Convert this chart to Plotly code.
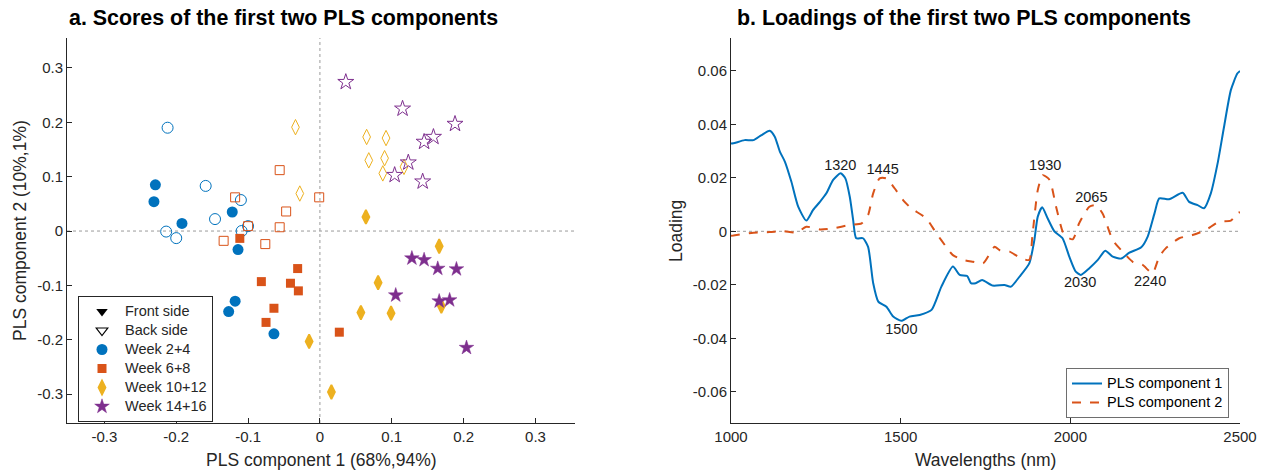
import plotly.graph_objects as go

# ---------------- Scores data (panel a) ----------------
w24_front_x = [-0.229, -0.231, -0.192, -0.122, -0.114, -0.118, -0.127, -0.064]
w24_front_y = [0.085, 0.054, 0.014, 0.035, -0.034, -0.129, -0.148, -0.189]
w24_back_x = [-0.212, -0.159, -0.110, -0.146, -0.214, -0.200, -0.109, -0.100]
w24_back_y = [0.190, 0.083, 0.057, 0.022, -0.001, -0.013, 0.000, 0.009]

w68_front_x = [-0.1115, -0.031, -0.0815, -0.041, -0.030, -0.064, -0.075, 0.027]
w68_front_y = [-0.0135, -0.069, -0.093, -0.096, -0.110, -0.142, -0.168, -0.186]
w68_back_x = [-0.056, -0.118, -0.001, -0.047, -0.056, -0.134, -0.076, -0.100]
w68_back_y = [0.112, 0.062, 0.062, 0.036, 0.007, -0.018, -0.024, 0.009]

w1012_front_x = [0.064, 0.166, 0.081, 0.057, 0.099, 0.169, -0.015, 0.016]
w1012_front_y = [0.026, -0.028, -0.095, -0.150, -0.151, -0.138, -0.203, -0.296]
w1012_back_x = [-0.034, -0.028, 0.065, 0.092, 0.068, 0.090, 0.0875, 0.117]
w1012_back_y = [0.191, 0.069, 0.173, 0.171, 0.130, 0.134, 0.106, 0.118]

w1416_front_x = [0.128, 0.145, 0.164, 0.190, 0.1055, 0.166, 0.1805, 0.204]
w1416_front_y = [-0.050, -0.053, -0.069, -0.070, -0.118, -0.129, -0.127, -0.2145]
w1416_back_x = [0.036, 0.115, 0.188, 0.145, 0.158, 0.123, 0.104, 0.143]
w1416_back_y = [0.274, 0.225, 0.197, 0.164, 0.173, 0.126, 0.103, 0.091]

score_ticks = [-0.3, -0.2, -0.1, 0, 0.1, 0.2, 0.3]
score_ticktext = ["-0.3", "-0.2", "-0.1", "0", "0.1", "0.2", "0.3"]

# ---------------- Loadings data (panel b) ----------------
pc1_wl = [1000, 1007, 1040, 1066, 1090, 1114, 1129, 1144, 1159, 1178, 1198, 1222, 1242, 1262,
          1281, 1301, 1323, 1337, 1350, 1360, 1369, 1389, 1404, 1419, 1434, 1458, 1478, 1502,
          1526, 1556, 1591, 1620, 1654, 1674, 1696, 1707, 1721, 1740, 1771, 1806, 1825, 1850,
          1879, 1894, 1904, 1917, 1933, 1953, 1977, 1997, 2016, 2031, 2056, 2081, 2103, 2125,
          2150, 2174, 2209, 2228, 2248, 2262, 2291, 2331, 2350, 2375, 2394, 2414, 2434, 2453,
          2473, 2492, 2500]
pc1_load = [0.0328, 0.0329, 0.0341, 0.0341, 0.0360, 0.0376, 0.0354, 0.0298, 0.0260, 0.0185,
            0.0092, 0.0040, 0.0080, 0.0110, 0.0142, 0.0192, 0.0217, 0.0198, 0.0129, 0.0042,
            -0.0026, -0.0026, -0.0058, -0.0194, -0.0263, -0.0282, -0.0319, -0.0335, -0.0319,
            -0.0313, -0.0294, -0.0207, -0.0132, -0.0163, -0.0167, -0.0194, -0.0194, -0.0182,
            -0.0203, -0.0201, -0.0207, -0.0170, -0.0120, -0.0033, 0.0055, 0.0090, 0.0049, 0.0000,
            -0.0026, -0.0095, -0.0151, -0.0163, -0.0138, -0.0107, -0.0073, -0.0095, -0.0102,
            -0.0080, -0.0060, -0.0020, 0.0067, 0.0123, 0.0120, 0.0144, 0.0110, 0.0098, 0.0086,
            0.0142, 0.0254, 0.0391, 0.0528, 0.0590, 0.0600]

pc2_wl = [1000, 1007, 1066, 1114, 1153, 1193, 1222, 1262, 1301, 1350, 1385, 1404, 1419, 1438,
          1458, 1482, 1507, 1531, 1575, 1605, 1634, 1654, 1684, 1713, 1743, 1777, 1791, 1821,
          1855, 1879, 1888, 1904, 1919, 1939, 1958, 1982, 2007, 2026, 2056, 2075, 2095, 2125,
          2154, 2184, 2213, 2242, 2262, 2281, 2321, 2360, 2399, 2438, 2473, 2492, 2500]
pc2_load = [-0.0017, -0.0016, -0.0005, -0.0003, 0.0001, -0.0005, 0.0017, 0.0007, 0.0011,
            0.0024, 0.0030, 0.0061, 0.0142, 0.0198, 0.0198, 0.0161, 0.0117, 0.0086, 0.0049,
            -0.0007, -0.0058, -0.0089, -0.0107, -0.0114, -0.0120, -0.0058, -0.0070, -0.0076,
            -0.0101, -0.0107, -0.0020, 0.0154, 0.0210, 0.0192, 0.0092, -0.0014, -0.0030, 0.0030,
            0.0092, 0.0098, 0.0067, -0.0033, -0.0076, -0.0114, -0.0126, -0.0157, -0.0095,
            -0.0064, -0.0026, -0.0014, 0.0005, 0.0036, 0.0040, 0.0067, 0.0072]

peak_wl = [1320, 1445, 1500, 1930, 2065, 2030, 2240]
peak_lbl_x = [1322, 1447, 1502, 1926, 2062, 2029, 2235]
peak_lbl_y = [0.0244, 0.0229, -0.0369, 0.0244, 0.0122, -0.0196, -0.0192]

load_xticks = [1000, 1500, 2000, 2500]
load_yticks = [-0.06, -0.04, -0.02, 0, 0.02, 0.04, 0.06]
load_yticktext = ["-0.06", "-0.04", "-0.02", "0", "0.02", "0.04", "0.06"]

# ---------------- Styling ----------------
BLUE = "#0072BD"
ORANGE = "#D95319"
YELLOW = "#EDB120"
PURPLE = "#7E2F8E"
FONT = "Liberation Sans, Arial, sans-serif"
AXC = "#262626"


def big(s, px=14.5):
    return f'<span style="font-size:{px}px">{s}</span>'


fig = go.Figure()

groups = [
    ("Week 2+4", BLUE, "circle", 11, 0, w24_front_x, w24_front_y, w24_back_x, w24_back_y),
    ("Week 6+8", ORANGE, "square", 9, 0, w68_front_x, w68_front_y, w68_back_x, w68_back_y),
    ("Week 10+12", YELLOW, "diamond-tall", 10, 1.8, w1012_front_x, w1012_front_y, w1012_back_x, w1012_back_y),
    ("Week 14+16", PURPLE, "star", 11, 0.5, w1416_front_x, w1416_front_y, w1416_back_x, w1416_back_y),
]

# legend-only entries for front/back
fig.add_trace(go.Scatter(x=[None], y=[None], mode="markers", name=big("Front side"),
                         marker=dict(symbol="triangle-down", color="black", size=10),
                         legend="legend", legendrank=1, xaxis="x", yaxis="y"))
fig.add_trace(go.Scatter(x=[None], y=[None], mode="markers", name=big("Back side"),
                         marker=dict(symbol="triangle-down-open", color="black", size=10,
                                     line=dict(width=1.2)),
                         legend="legend", legendrank=2, xaxis="x", yaxis="y"))

for i, (name, col, sym, sz, lw, fx, fy, bx, by) in enumerate(groups):
    fig.add_trace(go.Scatter(x=bx, y=by, mode="markers", showlegend=False,
                             marker=dict(symbol=sym + "-open", color=col, size=sz + (1 if lw else 0),
                                         line=dict(width=1)),
                             xaxis="x", yaxis="y"))
    fig.add_trace(go.Scatter(x=fx, y=fy, mode="markers", name=big(name),
                             marker=dict(symbol=sym, color=col, size=sz,
                                         line=dict(width=lw, color=col)),
                             legend="legend", legendrank=3 + i, xaxis="x", yaxis="y"))

fig.add_trace(go.Scatter(x=pc1_wl, y=pc1_load, mode="lines", name=big("PLS component 1"),
                         line=dict(color=BLUE, width=2, shape="spline", smoothing=0.6),
                         legend="legend2", xaxis="x2", yaxis="y2"))
fig.add_trace(go.Scatter(x=pc2_wl, y=pc2_load, mode="lines", name=big("PLS component 2"),
                         line=dict(color=ORANGE, width=2, dash="dash", shape="spline", smoothing=0.6),
                         legend="legend2", xaxis="x2", yaxis="y2"))

fig.add_trace(go.Scatter(x=peak_lbl_x, y=peak_lbl_y, mode="text",
                         text=[str(v) for v in peak_wl], showlegend=False,
                         textfont=dict(family=FONT, size=14.5, color="#1a1a1a"),
                         xaxis="x2", yaxis="y2", hoverinfo="skip"))

# reference zero lines
dot = dict(color="#9a9a9a", width=1, dash="dot")
fig.add_shape(type="line", xref="x", yref="y domain", x0=0, x1=0, y0=0, y1=1, line=dot, layer="below")
fig.add_shape(type="line", xref="x domain", yref="y", x0=0, x1=1, y0=0, y1=0, line=dot, layer="below")
fig.add_shape(type="line", xref="x2 domain", yref="y2", x0=0, x1=1, y0=0, y1=0, line=dot, layer="below")

axis_common = dict(showgrid=False, zeroline=False, showline=True, linecolor=AXC, linewidth=1,
                   ticks="inside", ticklen=5, tickcolor=AXC, tickwidth=1, mirror=False,
                   tickfont=dict(family=FONT, size=15, color=AXC), automargin=False)

W, H = 1263, 470
ytop, ybot = 38, 423
ydom = [1 - ybot / H, 1 - ytop / H]

fig.update_layout(
    width=W, height=H,
    margin=dict(l=0, r=0, t=0, b=0),
    paper_bgcolor="white", plot_bgcolor="white",
    font=dict(family=FONT, color=AXC),
    xaxis=dict(domain=[67 / W, 575 / W], range=[-0.352, 0.355], tickvals=score_ticks,
               ticktext=score_ticktext, **axis_common),
    yaxis=dict(domain=ydom, range=[-0.353, 0.355], tickvals=score_ticks,
               ticktext=score_ticktext, **axis_common),
    xaxis2=dict(domain=[731 / W, 1240 / W], range=[1000, 2500], tickvals=load_xticks,
                anchor="y2", **axis_common),
    yaxis2=dict(domain=ydom, range=[-0.0717, 0.0723], tickvals=load_yticks,
                ticktext=load_yticktext, anchor="x2", **axis_common),
    legend=dict(x=78 / W, y=1 - 296 / H, xanchor="left", yanchor="top",
                bgcolor="white", bordercolor=AXC, borderwidth=1,
                font=dict(family=FONT, size=12, color=AXC), tracegroupgap=0,
                itemwidth=36),
    legend2=dict(x=1229 / W, y=1 - 418 / H, xanchor="right", yanchor="bottom",
                 bgcolor="white", bordercolor="#6e6e6e", borderwidth=1,
                 font=dict(family=FONT, size=12, color="black"), tracegroupgap=0),
    showlegend=True,
)

ann = [
    dict(text="<b>a. Scores of the first two PLS components</b>", x=67 / W, y=1 - 18 / H,
         xanchor="left", font=dict(size=21.4, color="black")),
    dict(text="<b>b. Loadings of the first two PLS components</b>", x=735 / W, y=1 - 18 / H,
         xanchor="left", font=dict(size=21.4, color="black")),
    dict(text="PLS component 1 (68%,94%)", x=321 / W, y=1 - 460 / H, font=dict(size=17.5, color=AXC)),
    dict(text="Wavelengths (nm)", x=985 / W, y=1 - 460 / H, font=dict(size=17.5, color=AXC)),
    dict(text="PLS component 2 (10%,1%)", x=20 / W, y=1 - 231 / H, textangle=-90,
         font=dict(size=17.5, color=AXC)),
    dict(text="Loading", x=676 / W, y=1 - 231 / H, textangle=-90, font=dict(size=17.5, color=AXC)),
]
for a in ann:
    a.setdefault("xanchor", "center")
    a.update(xref="paper", yref="paper", showarrow=False, yanchor="middle")
    a["font"]["family"] = FONT
fig.update_layout(annotations=ann)

fig.write_html("out.html", config={"displayModeBar": False},
               post_script="document.body.style.margin='0';document.body.style.overflow='hidden';")
